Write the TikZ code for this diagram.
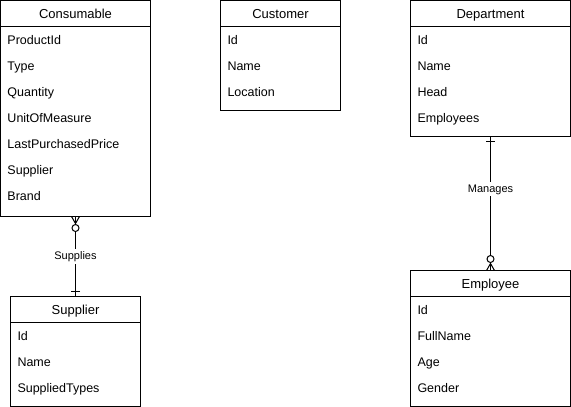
\documentclass[tikz,border=0pt]{standalone}
\usepackage{fontspec}
\setmainfont{Liberation Sans}
\usetikzlibrary{positioning}
\tikzset{
  % table header box
  title/.style={draw, minimum height=26pt, inner sep=0pt, outer sep=0pt, anchor=north west,
    text height=12pt, text depth=3pt, font=\fontsize{13}{15}\selectfont},
  % table body box
  body/.style={draw, inner sep=0pt, outer sep=0pt},
  % attribute text
  field/.style={anchor=west, inner sep=0pt, text height=9pt, text depth=3pt,
    font=\fontsize{12.5}{15}\selectfont},
  % relationship label
  rel/.style={fill=white, inner sep=1.5pt, text height=9pt, text depth=2.5pt,
    font=\fontsize{11}{13}\selectfont},
  % crow's foot with circle (zero or many)
  pics/zeromany/.style={code={
    \draw (-4,0) -- (0,-7) -- (4,0);
    \draw (0,0) -- (0,-7);
    \draw[fill=white] (0,-11.5) circle (3.5);}},
  % single bar (one)
  pics/onebar/.style={code={
    \draw (-4.5,-5) -- (4.5,-5);}}
}
\begin{document}
\begin{tikzpicture}[x=1pt,y=1pt,line width=1pt]
\useasboundingbox (0,0) rectangle (571,-407);

% Consumable
\node[title, minimum width=150pt] (consumable) at (0.5,-0.5) {Consumable};
\node[body, minimum width=150pt, minimum height=190pt, below=0pt of consumable] (consumableBody) {};
\foreach \f [count=\i] in {ProductId,Type,Quantity,UnitOfMeasure,LastPurchasedPrice,Supplier,Brand}
  \node[field] (consumable-\i) at (7,{-15-26*\i}) {\f};

% Customer
\node[title, minimum width=120pt] (customer) at (220.5,-0.5) {Customer};
\node[body, minimum width=120pt, minimum height=84pt, below=0pt of customer] (customerBody) {};
\foreach \f [count=\i] in {Id,Name,Location}
  \node[field] (customer-\i) at (227,{-15-26*\i}) {\f};

% Department
\node[title, minimum width=160pt] (department) at (410.5,-0.5) {Department};
\node[body, minimum width=160pt, minimum height=110pt, below=0pt of department] (departmentBody) {};
\foreach \f [count=\i] in {Id,Name,Head,Employees}
  \node[field] (department-\i) at (417,{-15-26*\i}) {\f};

% Supplier
\node[title, minimum width=130pt] (supplier) at (10.5,-296.5) {Supplier};
\node[body, minimum width=130pt, minimum height=84pt, below=0pt of supplier] (supplierBody) {};
\foreach \f [count=\i] in {Id,Name,SuppliedTypes}
  \node[field] (supplier-\i) at (17,{-311-26*\i}) {\f};

% Employee
\node[title, minimum width=160pt] (employee) at (410.5,-270.5) {Employee};
\node[body, minimum width=160pt, minimum height=110pt, below=0pt of employee] (employeeBody) {};
\foreach \f [count=\i] in {Id,FullName,Age,Gender}
  \node[field] (employee-\i) at (417,{-285-26*\i}) {\f};

% relationships
\draw (consumableBody.south) -- node[rel] {Supplies} (supplier.north);
\pic at (consumableBody.south) {zeromany};
\pic[rotate=180] at (supplier.north) {onebar};

\draw (departmentBody.south) -- node[rel, pos=0.39] {Manages} (employee.north);
\pic at (departmentBody.south) {onebar};
\pic[rotate=180] at (employee.north) {zeromany};
\end{tikzpicture}
\end{document}
